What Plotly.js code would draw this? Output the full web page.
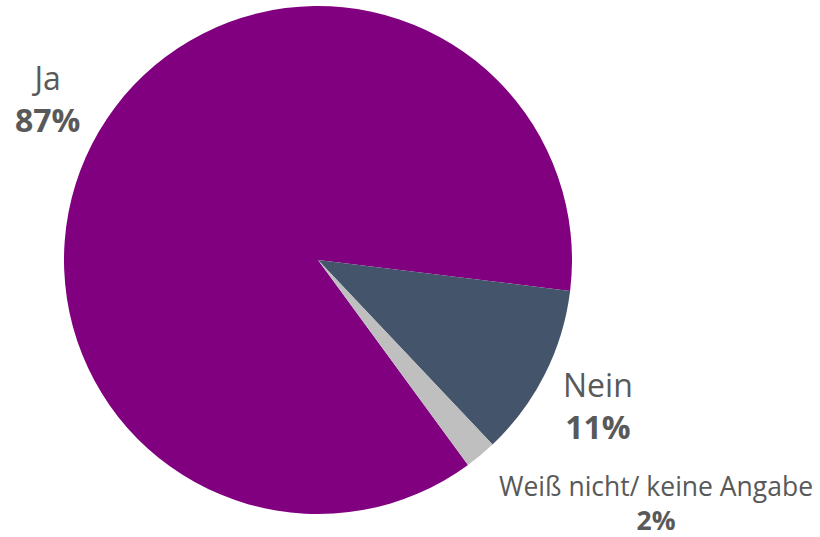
<!DOCTYPE html>
<html><head><meta charset="utf-8">
<script src="https://cdn.plot.ly/plotly-3.0.1.min.js"></script>
<style>html,body{margin:0;padding:0;background:#fff}</style>
</head><body><div id="chart" style="width:820px;height:537px"></div>
<script>
const labels = ["Ja", "Nein", "Weiß nicht/ keine Angabe"];
const values = [87, 11, 2];
const colors = ["#800080", "#44546A", "#BFBFBF"];
const labelFontSizes = [32, 32, 26.5];
const labelPos = [[47, 98], [598, 405], [656, 503]]; // pixel centres of text blocks

const W = 820, H = 537;
const annotations = labels.map((l, i) => ({
  text: l + "<br><b>" + values[i] + "%</b>",
  x: labelPos[i][0] / W, y: 1 - labelPos[i][1] / H,
  xref: "paper", yref: "paper", xanchor: "center", yanchor: "middle",
  showarrow: false, align: "center", borderpad: 0,
  font: {family: "Open Sans", size: labelFontSizes[i], color: "#595959"}
}));

const cx = 318, cy = 260, r = 254;
Plotly.newPlot("chart", [{
  type: "pie", labels: labels, values: values, sort: false,
  direction: "clockwise", rotation: 143.8,
  marker: {colors: colors, line: {width: 0}},
  textinfo: "none", hoverinfo: "none",
  domain: {x: [(cx - r) / W, (cx + r) / W], y: [1 - (cy + r) / H, 1 - (cy - r) / H]}
}], {
  width: W, height: H, margin: {l: 0, r: 0, t: 0, b: 0},
  showlegend: false, paper_bgcolor: "#fff",
  annotations: annotations
}, {displayModeBar: false, staticPlot: true});
</script></body></html>
